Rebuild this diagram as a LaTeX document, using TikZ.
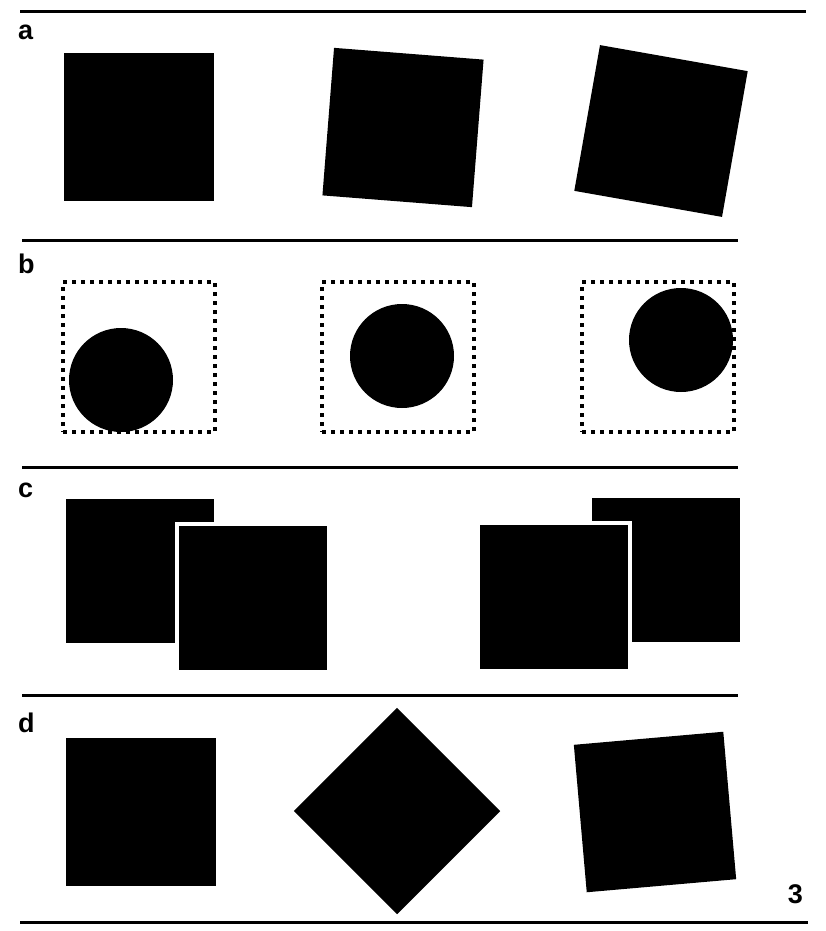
\documentclass[tikz,border=0pt]{standalone}
\usepackage{fontspec}
\setmainfont{Liberation Sans}
\usetikzlibrary{positioning}

\begin{document}
\begin{tikzpicture}[x=1pt, y=-1pt,
        tile/.style={rectangle, fill=black, minimum width=150pt, minimum height=148pt, inner sep=0pt},
        ctile/.style={tile, minimum width=148pt, minimum height=144pt},
        front/.style={ctile, draw=white, line width=4pt, minimum width=152pt, minimum height=148pt},
        frame/.style={rectangle, draw=black, line width=3.5pt, dash pattern=on 4pt off 5pt, minimum width=152pt, minimum height=150pt, inner sep=0pt},
        disc/.style={circle, fill=black, minimum size=104pt, inner sep=0pt},
        lab/.style={font=\fontsize{27}{29}\selectfont\bfseries, inner sep=0pt, anchor=base west},
        rule/.style={line width=3pt}]

        \useasboundingbox (0,0) rectangle (825,931);

        % rules between the rows
        \draw[rule] (20,12) -- (806,12);
        \draw[rule] (22,240) -- (738,240);
        \draw[rule] (22,467) -- (738,467);
        \draw[rule] (22,695) -- (738,695);
        \draw[rule] (20,922) -- (808,922);

        % row a
        \node[lab] (la) at (18,40) {a};
        \node[tile] (a1) at (139,127) {};
        \node[tile, rotate=-4.5] (a2) at (403,127.5) {};
        \node[tile, rotate=-10] (a3) at (661,131) {};

        % row b
        \node[lab] (lb) at (18,273) {b};
        \node[frame] (f1) at (139,357) {};
        \node[frame] (f2) at (398,357) {};
        \node[frame] (f3) at (658,357) {};
        \node[disc] (c1) at (121,380) {};
        \node[disc] (c2) at (402,356) {};
        \node[disc] (c3) at (681,340) {};

        % row c
        \node[lab] (lc) at (18,497) {c};
        \node[ctile] (cb1) at (140,570.5) {};
        \node[front] (cf1) at (253,597.5) {};
        \node[ctile] (cb2) at (665.5,570) {};
        \node[front] (cf2) at (554,597) {};

        % row d
        \node[lab] (ld) at (18,732) {d};
        \node[tile] (d1) at (141,812) {};
        \node[tile, minimum width=146pt, minimum height=146pt, rotate=45] (d2) at (397,811) {};
        \node[tile, rotate=5] (d3) at (655,812) {};
        \node[lab, anchor=base east] (num) at (803,903) {3};

    \end{tikzpicture}
\end{document}
